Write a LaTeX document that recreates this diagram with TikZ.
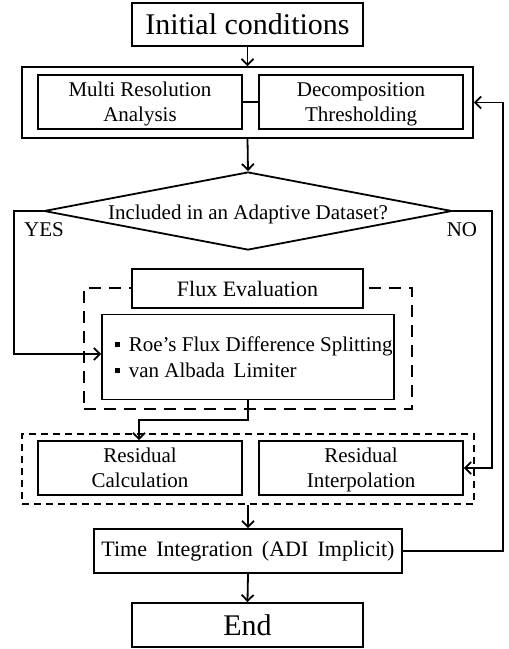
\documentclass[tikz,border=0pt]{standalone}
\usepackage{fontspec}
\setmainfont{Liberation Serif}
\usetikzlibrary{arrows.meta,shapes.geometric}
\newcommand{\sqbullet}{\hspace*{12pt}\rule[0.22em]{0.22em}{0.22em}}
\newcommand{\lstrut}{\rule[-6pt]{0pt}{25pt}}
\begin{document}
\begin{tikzpicture}[x=1pt,y=-1pt,
  box/.style={draw,line width=1.8pt,rectangle,inner sep=0pt,fill=white,align=center},
  txt/.style={font=\fontsize{21}{25}\selectfont},
  big/.style={font=\fontsize{30}{34}\selectfont},
  arr/.style={line width=1.8pt,-{Straight Barb[length=6pt,width=12pt,line width=1.8pt]}},
  ln/.style={line width=1.8pt},
  dashA/.style={draw,line width=2.6pt,dash pattern=on 12pt off 8pt,inner sep=0pt},
  dashB/.style={draw,line width=2pt,dash pattern=on 7pt off 5pt,inner sep=0pt}]
\useasboundingbox (0,0) rectangle (509,649);

% top of the chart
\node[box,big,minimum width=231pt,minimum height=43pt] (init) at (247.5,24.5) {Initial conditions};
\node[box,minimum width=451pt,minimum height=71pt] (outer) at (247.5,102.5) {};
\node[box,txt,minimum width=204pt,minimum height=54pt] (mra) at (140,102) {\lstrut Multi Resolution\\\lstrut Analysis};
\node[box,txt,minimum width=204pt,minimum height=54pt] (dt) at (361,102) {\lstrut Decomposition\\\lstrut Thresholding};

% decision
\node[draw,line width=1.8pt,diamond,aspect=5.2,inner sep=0pt,minimum width=408pt,minimum height=78pt,txt,text height=16pt,text depth=0pt] (dec) at (248,211) {Included in an Adaptive Dataset?};
\node[txt] (yes) at (44,230) {YES};
\node[txt] (no) at (462,230) {NO};

% flux evaluation group
\node[dashA,minimum width=328pt,minimum height=121pt] (fgrp) at (248,348.5) {};
\node[box,font=\fontsize{22}{26}\selectfont,minimum width=231pt,minimum height=39pt] (flux) at (247.5,288.5) {Flux Evaluation};
\node[box,font=\fontsize{21}{26}\selectfont,minimum width=292pt,minimum height=85pt,align=left] (roe) at (248,357)
  {\sqbullet\, Roe’s Flux Difference Splitting\\\sqbullet\, van Albada\, Limiter};

% residual group
\node[dashB,minimum width=452pt,minimum height=70pt] (rgrp) at (248,469) {};
\node[box,txt,minimum width=204pt,minimum height=54pt] (rc) at (140,468) {\lstrut Residual\\\lstrut Calculation};
\node[box,txt,minimum width=204pt,minimum height=54pt] (ri) at (361,468) {\lstrut Residual\\\lstrut Interpolation};

% bottom of the chart
\node[box,font=\fontsize{22}{26}\selectfont,minimum width=308pt,minimum height=44pt] (time) at (248,551) {Time\, Integration\, (ADI\, Implicit)};
\node[box,big,minimum width=231pt,minimum height=44pt] (end) at (247.5,625) {End};

% connectors
\draw[arr] (init.south) -- (outer.north);
\draw[ln] (mra.east) -- (dt.west);
\draw[arr] (outer.south) -- (dec.north);
\coordinate (ya) at (14,211);
\coordinate (yb) at (14,354);
\draw[arr] (dec.west) -- (ya) -- (yb) -- (roe.west |- yb);
\coordinate (na) at (492,211);
\coordinate (nb) at (492,468);
\draw[arr] (dec.east) -- (na) -- (nb) -- (ri.east);
\coordinate (fa) at (248,420);
\coordinate (fb) at (139,420);
\draw[arr] (roe.south) -- (fa) -- (fb) -- (fb |- rc.north);
\draw[arr] (rgrp.south) -- (time.north);
\draw[arr] (time.south) -- (end.north);
\coordinate (ba) at (503,551);
\coordinate (bb) at (503,102.5);
\draw[arr] (time.east) -- (ba) -- (bb) -- (outer.east);
\end{tikzpicture}
\end{document}
